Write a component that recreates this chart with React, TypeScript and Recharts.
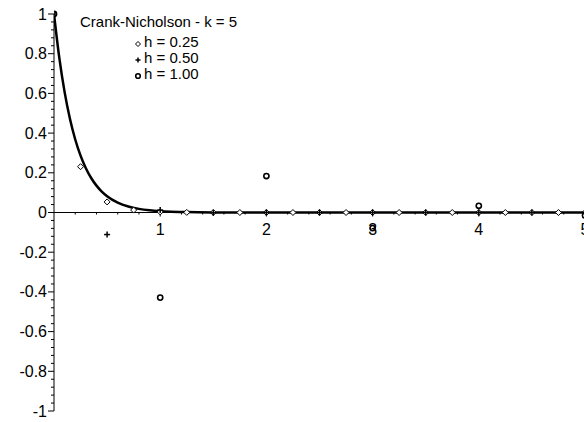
import {
  ComposedChart,
  Line,
  Scatter,
  XAxis,
  YAxis,
  ReferenceLine,
  ReferenceDot,
} from "recharts";

// exact solution y = e^(-5t)
const exactT = [0, 0.05, 0.1, 0.15, 0.2, 0.25, 0.3, 0.35, 0.4, 0.45, 0.5, 0.6, 0.7, 0.8, 0.9, 1, 1.25, 1.5, 2, 3, 4, 5];
const exactV = [1, 0.7788, 0.6065, 0.4724, 0.3679, 0.2865, 0.2231, 0.1738, 0.1353, 0.1054, 0.0821, 0.0498, 0.0302, 0.0183, 0.0111, 0.0067, 0.0019, 0.0006, 0, 0, 0, 0];

// Crank-Nicholson steps, h = 0.25
const h025T = [0, 0.25, 0.5, 0.75, 1, 1.25, 1.5, 1.75, 2, 2.25, 2.5, 2.75, 3, 3.25, 3.5, 3.75, 4, 4.25, 4.5, 4.75, 5];
const h025V = [1, 0.2308, 0.0533, 0.0123, 0.0028, 0.0007, 0.0002, 0, 0, 0, 0, 0, 0, 0, 0, 0, 0, 0, 0, 0, 0];

// h = 0.50
const h050T = [0, 0.5, 1, 1.5, 2, 2.5, 3, 3.5, 4, 4.5, 5];
const h050V = [1, -0.1111, 0.0123, -0.0014, 0.0002, 0, 0, 0, 0, 0, 0];

// h = 1.00
const h100T = [0, 1, 2, 3, 4, 5];
const h100V = [1, -0.4286, 0.1837, -0.0787, 0.0337, -0.0145];

const xMajor = [1, 2, 3, 4, 5];
const yMajor = [1, 0.8, 0.6, 0.4, 0.2, 0, -0.2, -0.4, -0.6, -0.8, -1];
const yLabels = ["1", "0.8", "0.6", "0.4", "0.2", "0", "-0.2", "-0.4", "-0.6", "-0.8", "-1"];

const title = "Crank-Nicholson - k = 5";
const legendLabels = ["h = 0.25", "h = 0.50", "h = 1.00"];

const zip = (ts: number[], vs: number[]) => ts.map((t, i) => ({ t, v: vs[i] }));

const exactData = zip(exactT, exactV);
const data025 = zip(h025T, h025V);
const data050 = zip(h050T, h050V);
const data100 = zip(h100T, h100V);

// minor ticks between the labelled ones
const xMinor: number[] = [];
for (let i = 1; i < 25; i++) if (i % 5 !== 0) xMinor.push(i * 0.2);
const yTicks: number[] = [];
for (let i = -25; i <= 25; i++) yTicks.push(Math.round(i * 4) / 100);

const FONT = "'Liberation Sans', Arial, sans-serif";

const Diamond = ({ cx, cy, s = 3 }: any) => (
  <path
    d={`M${cx},${cy - s}L${cx + s},${cy}L${cx},${cy + s}L${cx - s},${cy}Z`}
    fill="#fff"
    stroke="#000"
    strokeWidth={1}
  />
);

const Plus = ({ cx, cy, s = 3 }: any) => (
  <g stroke="#000" strokeWidth={1.5}>
    <line x1={cx - s} y1={cy} x2={cx + s} y2={cy} />
    <line x1={cx} y1={cy - s} x2={cx} y2={cy + s} />
  </g>
);

const Ring = ({ cx, cy, s = 2.6 }: any) => (
  <circle cx={cx} cy={cy} r={s} fill="none" stroke="#000" strokeWidth={1.6} />
);

function YTick({ x, y, payload }: any) {
  const v = payload.value;
  const idx = yMajor.findIndex((m) => Math.abs(m - v) < 1e-6);
  if (idx < 0) {
    return <line x1={x - 3} y1={y} x2={x} y2={y} stroke="#000" />;
  }
  return (
    <g>
      <line x1={x - 6} y1={y} x2={x} y2={y} stroke="#000" />
      <text x={x - 7} y={y} dy={5.5} textAnchor="end" fontSize={16} fontFamily={FONT} fill="#000">
        {yLabels[idx]}
      </text>
    </g>
  );
}

const XMajorTick = ({ cx, cy, label }: any) => (
  <g>
    <line x1={cx} y1={cy} x2={cx} y2={cy + 4} stroke="#000" />
    <text x={cx} y={cy + 22} textAnchor="middle" fontSize={16} fontFamily={FONT} fill="#000">
      {label}
    </text>
  </g>
);

const XMinorTick = ({ cx, cy }: any) => (
  <line x1={cx} y1={cy} x2={cx} y2={cy + 2} stroke="#000" />
);

function KeyBox() {
  const marks = [Diamond, Plus, Ring];
  return (
    <div
      style={{
        position: "absolute",
        left: 80,
        top: 14,
        fontFamily: FONT,
        fontSize: 15,
        color: "#000",
        lineHeight: "16px",
        whiteSpace: "nowrap",
      }}
    >
      <div>{title}</div>
      <div style={{ marginTop: 4, marginLeft: 54 }}>
        {legendLabels.map((lab, i) => {
          const M = marks[i];
          return (
            <div key={lab} style={{ display: "flex", alignItems: "center", height: 16 }}>
              <svg width={9} height={16} style={{ marginRight: 1 }}>
                <M cx={4} cy={10} s={i === 2 ? 2.3 : 2.5} />
              </svg>
              <span>{lab}</span>
            </div>
          );
        })}
      </div>
    </div>
  );
}

export default function App() {
  return (
    <div
      style={{
        position: "absolute",
        left: 0,
        top: 0,
        width: 584,
        height: 422,
        overflow: "hidden",
        background: "#fff",
      }}
    >
      <ComposedChart width={600} height={422} margin={{ top: 14, right: 15, bottom: 11, left: 0 }}>
        <XAxis type="number" dataKey="t" domain={[0, 5]} allowDataOverflow hide />
        <YAxis
          type="number"
          dataKey="v"
          domain={[-1, 1]}
          ticks={yTicks}
          interval={0}
          width={54}
          tickSize={0}
          tickMargin={0}
          tickLine={false}
          axisLine={{ stroke: "#000" }}
          tick={<YTick />}
        />
        <ReferenceLine y={0} stroke="#000" strokeWidth={1} />
        {xMinor.map((t) => (
          <ReferenceDot key={`m${t}`} x={t} y={0} r={0} shape={(p: any) => <XMinorTick {...p} />} />
        ))}
        {xMajor.map((t) => (
          <ReferenceDot
            key={`M${t}`}
            x={t}
            y={0}
            r={0}
            shape={(p: any) => <XMajorTick {...p} label={String(t)} />}
          />
        ))}
        <Line
          data={exactData}
          dataKey="v"
          type="monotone"
          stroke="#000"
          strokeWidth={2.5}
          dot={false}
          isAnimationActive={false}
        />
        <Scatter data={data025} dataKey="v" shape={(p: any) => <Diamond cx={p.cx} cy={p.cy} />} isAnimationActive={false} />
        <Scatter data={data050} dataKey="v" shape={(p: any) => <Plus cx={p.cx} cy={p.cy} />} isAnimationActive={false} />
        <Scatter data={data100} dataKey="v" shape={(p: any) => <Ring cx={p.cx} cy={p.cy} />} isAnimationActive={false} />
      </ComposedChart>
      <KeyBox />
    </div>
  );
}
